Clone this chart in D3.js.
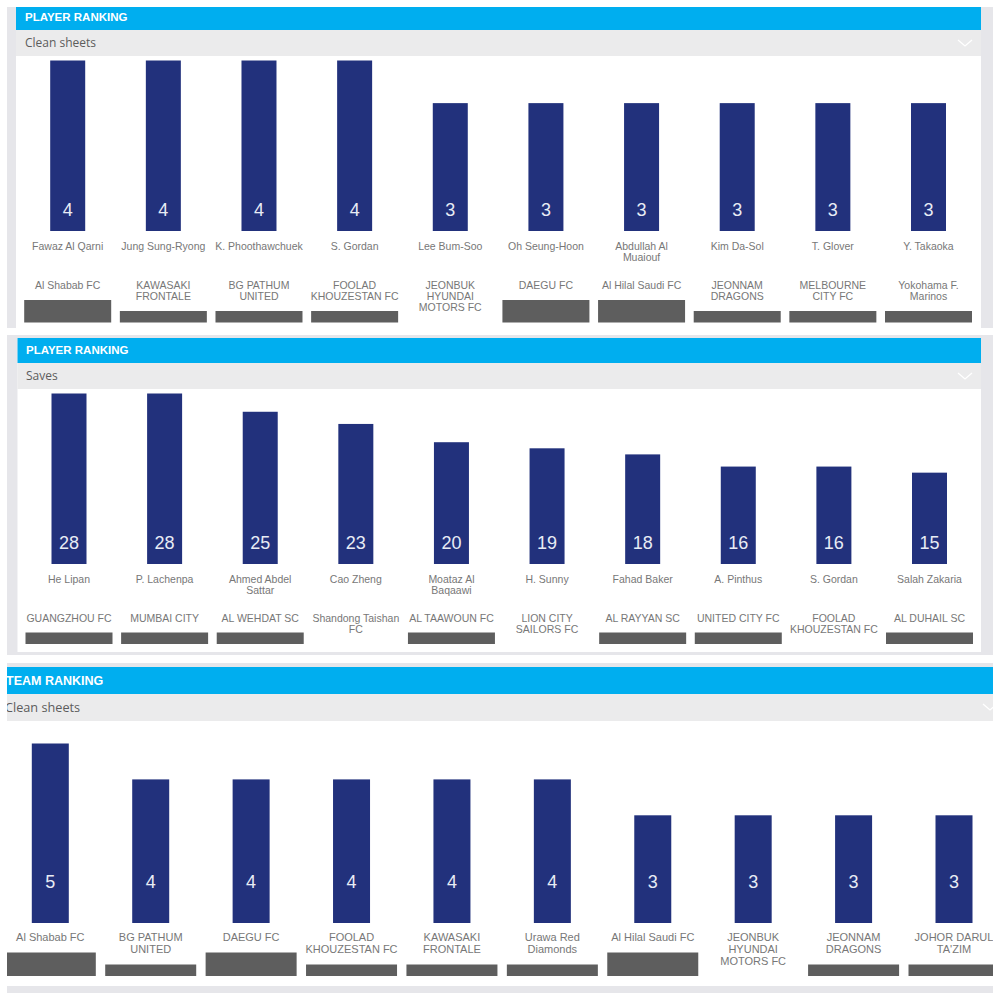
<!DOCTYPE html>
<html>
<head>
  <meta charset="utf-8">
  <style>
    html, body {
      margin: 0;
      padding: 0;
      background: #fff;
      width: 100%;
      height: 100%;
      overflow: hidden;
    }
    svg { display: block; }
    text { font-family: "Liberation Sans", sans-serif; }
  </style>
</head>
<body>
  <svg width="1000" height="1000"></svg>

  <script src="https://d3js.org/d3.v7.min.js"></script>
  <script>
    // first panel: player clean sheets
    const cleanPlayers = ["Fawaz Al Qarni", "Jung Sung-Ryong", "K. Phoothawchuek", "S. Gordan", "Lee Bum-Soo",
      "Oh Seung-Hoon", "Abdullah Al\nMuaiouf", "Kim Da-Sol", "T. Glover", "Y. Takaoka"];
    const cleanPlayerClubs = ["Al Shabab FC", "KAWASAKI\nFRONTALE", "BG PATHUM\nUNITED", "FOOLAD\nKHOUZESTAN FC",
      "JEONBUK\nHYUNDAI\nMOTORS FC", "DAEGU FC", "Al Hilal Saudi FC", "JEONNAM\nDRAGONS",
      "MELBOURNE\nCITY FC", "Yokohama F.\nMarinos"];
    const cleanPlayerValues = [4, 4, 4, 4, 3, 3, 3, 3, 3, 3];

    // second panel: saves
    const savePlayers = ["He Lipan", "P. Lachenpa", "Ahmed Abdel\nSattar", "Cao Zheng", "Moataz Al\nBaqaawi",
      "H. Sunny", "Fahad Baker", "A. Pinthus", "S. Gordan", "Salah Zakaria"];
    const savePlayerClubs = ["GUANGZHOU FC", "MUMBAI CITY", "AL WEHDAT SC", "Shandong Taishan\nFC", "AL TAAWOUN FC",
      "LION CITY\nSAILORS FC", "AL RAYYAN SC", "UNITED CITY FC", "FOOLAD\nKHOUZESTAN FC", "AL DUHAIL SC"];
    const saveValues = [28, 28, 25, 23, 20, 19, 18, 16, 16, 15];

    // third panel: team clean sheets
    const cleanTeams = ["Al Shabab FC", "BG PATHUM\nUNITED", "DAEGU FC", "FOOLAD\nKHOUZESTAN FC", "KAWASAKI\nFRONTALE",
      "Urawa Red\nDiamonds", "Al Hilal Saudi FC", "JEONBUK\nHYUNDAI\nMOTORS FC", "JEONNAM\nDRAGONS", "JOHOR DARUL\nTA'ZIM"];
    const cleanTeamValues = [5, 4, 4, 4, 4, 4, 3, 3, 3, 3];

    const svg = d3.select("svg");

    const barColor = "#22317c";
    const blue = "#00aeef";
    const strip = "#e6e6ea";
    const subBg = "#ebebec";
    const logoGrey = "#5e5e5e";
    const labelGrey = "#777";

    function multiline(sel, lineHeight) {
      sel.each(function (d) {
        const t = d3.select(this);
        const lines = d.label.split("\n");
        lines.forEach((line, i) => {
          t.append("tspan").attr("x", t.attr("x")).attr("dy", i ? lineHeight : 0).text(line);
        });
      });
    }

    function drawPanel(p, idx) {
      const clipId = "panel-clip-" + idx;
      svg.append("clipPath").attr("id", clipId).append("rect")
        .attr("x", p.outerX).attr("y", p.outerTop)
        .attr("width", p.outerW).attr("height", p.outerBottom - p.outerTop);

      const g = svg.append("g").attr("clip-path", `url(#${clipId})`);

      // grey page strip behind the panel
      g.append("rect").attr("x", p.outerX).attr("y", p.outerTop)
        .attr("width", p.outerW).attr("height", p.outerBottom - p.outerTop).attr("fill", strip);
      g.append("rect").attr("x", p.left).attr("y", p.headTop)
        .attr("width", p.right - p.left).attr("height", p.whiteBottom - p.headTop).attr("fill", "#fff");

      g.append("rect").attr("x", p.left).attr("y", p.headTop)
        .attr("width", p.right - p.left).attr("height", p.headBottom - p.headTop).attr("fill", blue);
      g.append("rect").attr("x", p.left).attr("y", p.headBottom)
        .attr("width", p.right - p.left).attr("height", p.subBottom - p.headBottom).attr("fill", subBg);

      g.append("text").attr("x", p.titleX).attr("y", p.titleY)
        .attr("fill", "#fff").attr("font-size", p.titleSize).attr("font-weight", "bold").text(p.title);
      g.append("text").attr("x", p.subX).attr("y", (p.headBottom + p.subBottom) / 2 + 4)
        .attr("fill", "#5c5c5c").attr("font-size", p.subSize).style("font-family", "'Open Sans'").text(p.subtitle);

      g.append("path")
        .attr("d", `M${p.chevronX - 7},${p.chevronY - 3}L${p.chevronX},${p.chevronY + 3}L${p.chevronX + 7},${p.chevronY - 3}`)
        .attr("fill", "none").attr("stroke", "#fff").attr("stroke-width", 1.3);

      const rows = p.values.map((v, i) => ({ value: v, name: p.names ? p.names[i] : null, club: p.clubs[i], i }));

      const x = d3.scalePoint().domain(d3.range(rows.length)).range(p.xRange);
      const y = d3.scaleLinear().domain([0, p.maxValue]).range([p.barBottom, p.barTop]);

      g.append("g").selectAll("rect")
        .data(rows)
        .join("rect")
        .attr("x", d => x(d.i) - p.barW / 2)
        .attr("y", d => y(d.value))
        .attr("width", p.barW)
        .attr("height", d => p.barBottom - y(d.value))
        .attr("fill", barColor);

      g.append("g").selectAll("text")
        .data(rows)
        .join("text")
        .attr("x", d => x(d.i))
        .attr("y", p.valueY)
        .attr("text-anchor", "middle")
        .attr("fill", "#e8ecf5")
        .attr("font-size", 18)
        .text(d => d.value);

      if (p.names) {
        g.append("g").selectAll("text")
          .data(rows.map(d => ({ ...d, label: d.name })))
          .join("text")
          .attr("x", d => x(d.i))
          .attr("y", p.nameY)
          .attr("text-anchor", "middle")
          .attr("fill", labelGrey)
          .attr("font-size", p.labelSize)
          .call(multiline, p.lineH);
      }

      g.append("g").selectAll("text")
        .data(rows.map(d => ({ ...d, label: d.club })))
        .join("text")
        .attr("x", d => x(d.i))
        .attr("y", p.clubY)
        .attr("text-anchor", "middle")
        .attr("fill", labelGrey)
        .attr("font-size", p.labelSize)
        .call(multiline, p.lineH);

      // dark block under each club label, fills whatever room the label leaves
      const blocks = rows.filter(d => p.logoTop(d.club.split("\n").length) !== null);
      g.append("g").selectAll("rect")
        .data(blocks)
        .join("rect")
        .attr("x", d => x(d.i) - p.logoW / 2)
        .attr("y", d => p.logoTop(d.club.split("\n").length))
        .attr("width", p.logoW)
        .attr("height", d => p.logoBottom - p.logoTop(d.club.split("\n").length))
        .attr("fill", logoGrey);
    }

    drawPanel({
      title: "PLAYER RANKING", subtitle: "Clean sheets",
      names: cleanPlayers, clubs: cleanPlayerClubs, values: cleanPlayerValues, maxValue: 4,
      outerX: 7, outerW: 986, outerTop: 7, outerBottom: 328, left: 16, right: 981, whiteBottom: 328,
      headTop: 7, headBottom: 30, subBottom: 56, titleX: 25, titleY: 21, titleSize: 11.5, subX: 25, subSize: 12,
      chevronX: 965, chevronY: 43,
      xRange: [67.7, 928.5], barW: 35, barTop: 60.5, barBottom: 231, valueY: 215.7,
      nameY: 249.5, clubY: 289, labelSize: 10.5, lineH: 11,
      logoW: 87, logoBottom: 322.5,
      logoTop: n => n === 1 ? 300 : n === 2 ? 311 : null
    }, 0);

    drawPanel({
      title: "PLAYER RANKING", subtitle: "Saves",
      names: savePlayers, clubs: savePlayerClubs, values: saveValues, maxValue: 28,
      outerX: 7, outerW: 986, outerTop: 335, outerBottom: 655, left: 17.5, right: 981, whiteBottom: 652,
      headTop: 338, headBottom: 363, subBottom: 389, titleX: 26, titleY: 354, titleSize: 11.5, subX: 26, subSize: 12,
      chevronX: 965, chevronY: 376,
      xRange: [69, 929.5], barW: 35, barTop: 393.5, barBottom: 564, valueY: 549,
      nameY: 582.5, clubY: 622, labelSize: 10.5, lineH: 11,
      logoW: 87, logoBottom: 644,
      logoTop: n => n === 1 ? 632.5 : null
    }, 1);

    drawPanel({
      title: "TEAM RANKING", subtitle: "Clean sheets",
      clubs: cleanTeams, values: cleanTeamValues, maxValue: 5,
      outerX: 7, outerW: 986, outerTop: 663, outerBottom: 993, left: 7, right: 993, whiteBottom: 986,
      headTop: 667, headBottom: 694, subBottom: 721, titleX: 6, titleY: 684.5, titleSize: 12.5, subX: 5, subSize: 12.7,
      chevronX: 990, chevronY: 707,
      xRange: [50.3, 954], barW: 37, barTop: 743.5, barBottom: 923, valueY: 888.3,
      clubY: 941, labelSize: 11, lineH: 12,
      logoW: 91, logoBottom: 976,
      logoTop: n => n === 1 ? 952.5 : n === 2 ? 964.5 : null
    }, 2);
  </script>
</body>
</html>
